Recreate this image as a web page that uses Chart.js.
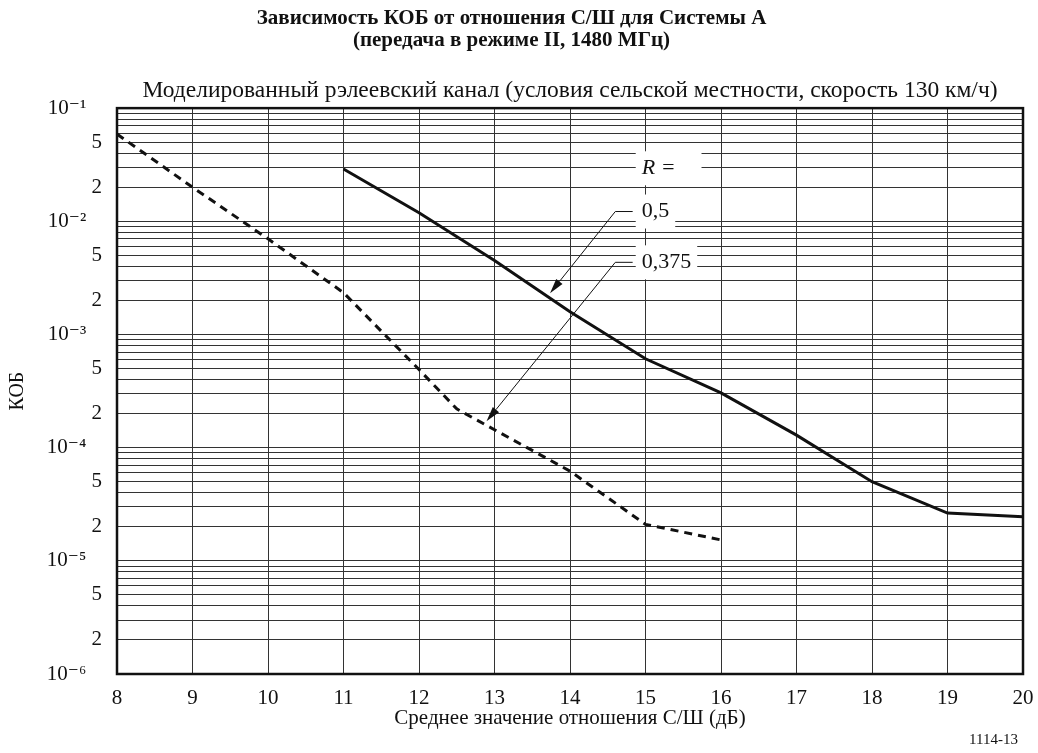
<!DOCTYPE html>
<html><head><meta charset="utf-8">
<script src="https://cdn.jsdelivr.net/npm/chart.js@4.4.0/dist/chart.umd.min.js"></script>
<style>html,body{margin:0;padding:0;background:#fff;}canvas{display:block;}</style>
</head><body>
<canvas id="c" width="1038" height="753"></canvas>
<script>
const titleLines = ['Зависимость КОБ от отношения С/Ш для Системы А', '(передача в режиме II, 1480 МГц)'];
const subtitleText = 'Моделированный рэлеевский канал (условия сельской местности, скорость 130 км/ч)';
const xAxisTitle = 'Среднее значение отношения С/Ш (дБ)';
const yAxisTitle = 'КОБ';
const figureId = '1114-13';

const xTicks = [8, 9, 10, 11, 12, 13, 14, 15, 16, 17, 18, 19, 20];
const yDecades = [-6, -5, -4, -3, -2];
const yMantissas = [1, 2, 3, 4, 5, 6, 7, 8, 9];
const yLabelMantissas = [1, 2, 5];

const snrR05 = [11, 12, 13, 14, 15, 16, 17, 18, 19, 20];
const berR05 = [2.9e-2, 1.19e-2, 4.5e-3, 1.59e-3, 6.1e-4, 3.05e-4, 1.29e-4, 5.0e-5, 2.64e-5, 2.45e-5];
const snrR0375 = [8, 9, 10, 11, 12, 12.5, 13, 14, 15, 16];
const berR0375 = [5.9e-2, 2.0e-2, 7.0e-3, 2.34e-3, 4.9e-4, 2.2e-4, 1.44e-4, 6.2e-5, 2.1e-5, 1.53e-5];

const annLabels = ['R =', '0,5', '0,375'];
const annLabelX = [14.95, 14.95, 14.95];
const annLabelY = [2.94e-2, 1.22e-2, 4.34e-3];
const arrowStartX = [14.83, 14.83];
const arrowElbowX = [14.6, 14.6];
const arrowLevelY = [1.22e-2, 4.34e-3];
const arrowTipX = [13.735, 12.894];
const arrowTipY = [2.31e-3, 1.71e-4];

const FONT = "'Liberation Serif', 'DejaVu Serif', serif";
const INK = '#111';
const SUP = {'-': '⁻', '0': '⁰', '1': '¹', '2': '²', '3': '³', '4': '⁴', '5': '⁵', '6': '⁶', '7': '⁷', '8': '⁸', '9': '⁹'};
const sup = s => String(s).split('').map(c => SUP[c] || c).join('');

const yTickValues = [];
yDecades.forEach(e => yMantissas.forEach(m => yTickValues.push(m * Math.pow(10, e))));
yTickValues.push(Math.pow(10, yDecades[yDecades.length - 1] + 1));

const framePlugin = {
  id: 'frame',
  beforeDatasetsDraw(chart) {
    const {ctx, chartArea: a} = chart;
    ctx.save();
    ctx.strokeStyle = INK;
    ctx.lineWidth = 2.5;
    ctx.strokeRect(a.left, a.top, a.right - a.left, a.bottom - a.top);
    ctx.restore();
  }
};

const annotationPlugin = {
  id: 'ann',
  afterDatasetsDraw(chart) {
    const {ctx, scales: {x, y}} = chart;
    ctx.save();
    const extraRight = [20, 0, 0];
    annLabels.forEach((t, i) => {
      ctx.font = (i === 0 ? 'italic ' : '') + '22px ' + FONT;
      const px = x.getPixelForValue(annLabelX[i]);
      const py = y.getPixelForValue(annLabelY[i]);
      const w = ctx.measureText(t).width;
      ctx.fillStyle = '#fff';
      ctx.fillRect(px - 6, py - 17, w + 12 + extraRight[i], 34);
    });
    ctx.strokeStyle = INK;
    ctx.fillStyle = INK;
    ctx.lineWidth = 1;
    arrowTipX.forEach((tx, i) => {
      const sx = x.getPixelForValue(arrowStartX[i]);
      const ex = x.getPixelForValue(arrowElbowX[i]);
      const ly = y.getPixelForValue(arrowLevelY[i]);
      const px = x.getPixelForValue(tx);
      const py = y.getPixelForValue(arrowTipY[i]);
      const ang = Math.atan2(py - ly, px - ex);
      const len = 15, hw = 4;
      const bx = px - Math.cos(ang) * len, by = py - Math.sin(ang) * len;
      ctx.beginPath();
      ctx.moveTo(sx, ly);
      ctx.lineTo(ex, ly);
      ctx.lineTo(bx, by);
      ctx.stroke();
      ctx.beginPath();
      ctx.moveTo(px, py);
      ctx.lineTo(bx - Math.sin(ang) * hw, by + Math.cos(ang) * hw);
      ctx.lineTo(bx + Math.sin(ang) * hw, by - Math.cos(ang) * hw);
      ctx.closePath();
      ctx.fill();
    });
    ctx.textBaseline = 'middle';
    ctx.textAlign = 'left';
    annLabels.forEach((t, i) => {
      ctx.font = (i === 0 ? 'italic ' : '') + '22px ' + FONT;
      ctx.fillStyle = INK;
      ctx.fillText(t, x.getPixelForValue(annLabelX[i]), y.getPixelForValue(annLabelY[i]));
    });
    ctx.font = '15px ' + FONT;
    ctx.textAlign = 'right';
    ctx.fillText(figureId, 1018, 740);
    ctx.restore();
  }
};

new Chart(document.getElementById('c'), {
  type: 'line',
  data: {
    datasets: [
      {
        label: '0,5',
        data: snrR05.map((v, i) => ({x: v, y: berR05[i]})),
        borderColor: INK, borderWidth: 3, pointRadius: 0, tension: 0, fill: false
      },
      {
        label: '0,375',
        data: snrR0375.map((v, i) => ({x: v, y: berR0375[i]})),
        borderColor: INK, borderWidth: 3, borderDash: [8, 6], pointRadius: 0, tension: 0, fill: false
      }
    ]
  },
  options: {
    responsive: false,
    animation: false,
    devicePixelRatio: 1,
    layout: {padding: {left: 0, right: 15, top: 0, bottom: 0}},
    plugins: {
      legend: {display: false},
      tooltip: {enabled: false},
      title: {
        display: true, text: titleLines, color: INK,
        font: {family: FONT, size: 21, weight: 'bold', lineHeight: 1.05},
        padding: {top: 8, bottom: 19}
      },
      subtitle: {
        display: true, text: subtitleText, color: INK, fullSize: false,
        font: {family: FONT, size: 23.5, lineHeight: 1.15},
        padding: {top: 6, bottom: 4}
      }
    },
    scales: {
      x: {
        type: 'linear', min: xTicks[0], max: xTicks[xTicks.length - 1],
        afterBuildTicks: s => { s.ticks = xTicks.map(v => ({value: v})); },
        afterFit: s => { s.height = 79; s.paddingLeft = 0; s.paddingRight = 0; },
        grid: {color: '#333', lineWidth: 1, drawTicks: false},
        border: {display: false},
        ticks: {color: INK, font: {family: FONT, size: 21}, padding: 12, maxRotation: 0, autoSkip: false},
        title: {display: true, text: xAxisTitle, color: INK, font: {family: FONT, size: 21}, padding: {top: 0, bottom: 22}}
      },
      y: {
        type: 'logarithmic', min: yTickValues[0], max: yTickValues[yTickValues.length - 1],
        afterBuildTicks: s => { s.ticks = yTickValues.map(v => ({value: v})); },
        afterFit: s => { s.width = 117; s.paddingTop = 0; s.paddingBottom = 0; },
        grid: {color: '#333', lineWidth: 1, drawTicks: false},
        border: {display: false},
        ticks: {
          color: INK, font: {family: FONT, size: 21}, padding: 15, autoSkip: false,
          callback: (value) => {
            const e = Math.floor(Math.log10(value) + 1e-9);
            const m = Math.round(value / Math.pow(10, e));
            if (m === 1) return '10' + sup(e) + '   ';
            return yLabelMantissas.includes(m) ? String(m) : '';
          }
        },
        title: {display: true, text: yAxisTitle, color: INK, font: {family: FONT, size: 20}, padding: {top: 6, bottom: 0}}
      }
    }
  },
  plugins: [framePlugin, annotationPlugin]
});
</script>
</body></html>
